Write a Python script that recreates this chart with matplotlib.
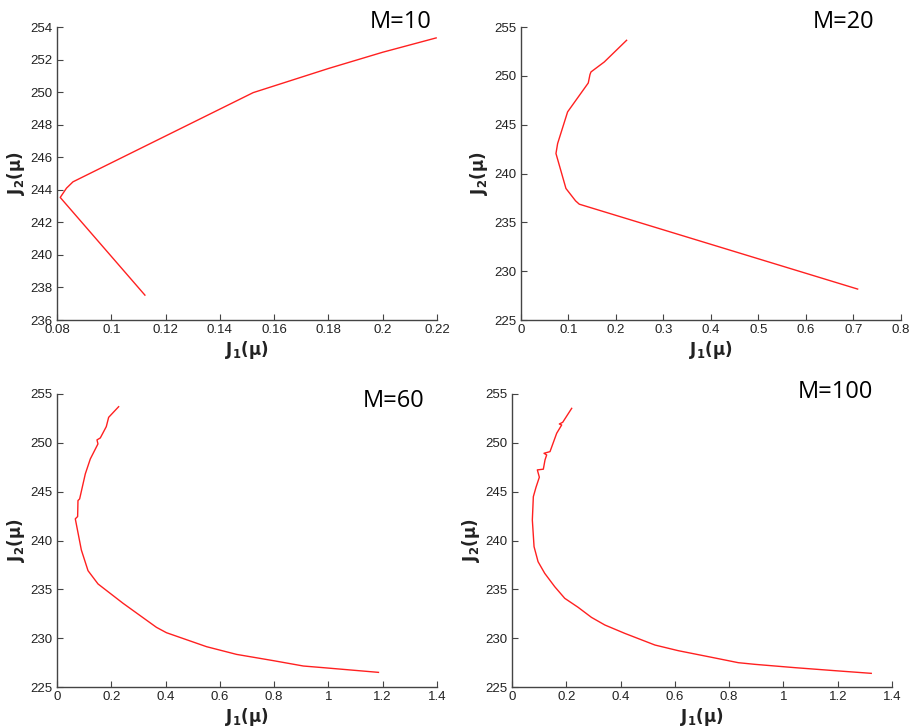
import numpy as np
import matplotlib
matplotlib.use('Agg')
from matplotlib import pyplot as plt
from matplotlib.ticker import FuncFormatter

# J1, J2 traces
x_m10 = [0.1124, 0.0812, 0.0835, 0.0859, 0.1523, 0.18, 0.2, 0.2197]
y_m10 = [237.53, 243.53, 244.1, 244.49, 249.97, 251.45, 252.45, 253.33]

x_m20 = [0.7088, 0.1228, 0.1150, 0.0947, 0.0737, 0.0772, 0.0982, 0.1417, 0.1453, 0.1474, 0.1754, 0.2224]
y_m20 = [228.17, 236.86, 237.2, 238.47, 242.05, 243.07, 246.31, 249.27, 250.13, 250.4, 251.42, 253.64]

x_m60 = [1.1845, 0.9815, 0.9077, 0.797, 0.6617, 0.551, 0.4034, 0.3665, 0.2435, 0.1513,
         0.1144, 0.0898, 0.0675, 0.0761, 0.0774, 0.0835, 0.1044, 0.1228, 0.151, 0.1474,
         0.1596, 0.1817, 0.1904, 0.2272]
y_m60 = [226.50, 226.98, 227.15, 227.70, 228.34, 229.13, 230.56, 231.11, 233.57, 235.55,
         236.91, 239.03, 242.22, 242.45, 244.09, 244.26, 246.82, 248.35, 249.89, 250.30,
         250.5, 251.66, 252.61, 253.7]

x_m100 = [1.3235, 1.1907, 1.043, 0.8954, 0.8339, 0.7355, 0.6125, 0.5264, 0.4157, 0.342,
          0.2927, 0.2435, 0.1943, 0.1574, 0.1205, 0.096, 0.0812, 0.0749, 0.0786, 0.0884,
          0.1007, 0.0933, 0.1154, 0.1216, 0.1277, 0.1179, 0.14, 0.1646, 0.183, 0.1744,
          0.1867, 0.2198]
y_m100 = [226.40, 226.67, 226.98, 227.32, 227.49, 228.04, 228.72, 229.30, 230.49, 231.35,
          232.13, 233.16, 234.08, 235.27, 236.64, 237.83, 239.37, 242.1, 244.49, 245.45,
          246.48, 247.23, 247.30, 248.25, 248.76, 248.93, 249.10, 250.98, 251.83, 251.93,
          252.10, 253.53]

titles = ['M=10', 'M=20', 'M=60', 'M=100']
xlims = [(0.08, 0.22), (0, 0.8), (0, 1.4), (0, 1.4)]
ylims = [(236, 254), (225, 255), (225, 255), (225, 255)]
xticks = [np.arange(0.08, 0.2201, 0.02), np.arange(0, 0.801, 0.1),
          np.arange(0, 1.401, 0.2), np.arange(0, 1.401, 0.2)]
yticks = [np.arange(236, 255, 2), np.arange(225, 256, 5),
          np.arange(225, 256, 5), np.arange(225, 256, 5)]
data = [(x_m10, y_m10), (x_m20, y_m20), (x_m60, y_m60), (x_m100, y_m100)]

# axes rectangles in figure fraction, and title anchors in axes fraction
rects = [[0.0624, 0.5604, 0.4162, 0.4025], [0.5706, 0.5604, 0.4162, 0.4025],
         [0.0624, 0.0563, 0.4162, 0.4025], [0.5608, 0.0563, 0.4162, 0.4025]]
tpos = [(0.987, 1.017), (0.929, 1.017), (0.968, 0.976), (0.95, 1.007)]

plt.rcParams['font.family'] = ['Liberation Sans', 'DejaVu Sans']
fig = plt.figure(figsize=(9.13, 7.28), dpi=100)
fmt = FuncFormatter(lambda v, p: '%g' % round(v, 4))

for i in range(4):
    ax = fig.add_axes(rects[i])
    ax.plot(data[i][0], data[i][1], color='#ff2020', lw=1.0)
    ax.set_xlim(xlims[i])
    ax.set_ylim(ylims[i])
    ax.set_xticks(xticks[i])
    ax.set_yticks(yticks[i])
    ax.xaxis.set_major_formatter(fmt)
    ax.yaxis.set_major_formatter(fmt)
    ax.spines['top'].set_visible(False)
    ax.spines['right'].set_visible(False)
    for s in ['left', 'bottom']:
        ax.spines[s].set_color('#444444')
        ax.spines[s].set_linewidth(1.0)
    ax.tick_params(direction='in', length=4, color='#444444', labelcolor='#222222',
                   labelsize=9.5)
    ax.tick_params(axis='x', pad=3)
    ax.tick_params(axis='y', pad=3)
    ax.set_xlabel(r'$\mathbf{J_1(\mu)}$', fontsize=12, labelpad=2, color='#222222')
    ax.set_ylabel(r'$\mathbf{J_2(\mu)}$', fontsize=12, labelpad=3, color='#222222')
    ax.text(tpos[i][0], tpos[i][1], titles[i], transform=ax.transAxes,
            ha='right', va='center', fontsize=17, family=['Open Sans', 'DejaVu Sans'])

fig.savefig('out.png', dpi=100)
